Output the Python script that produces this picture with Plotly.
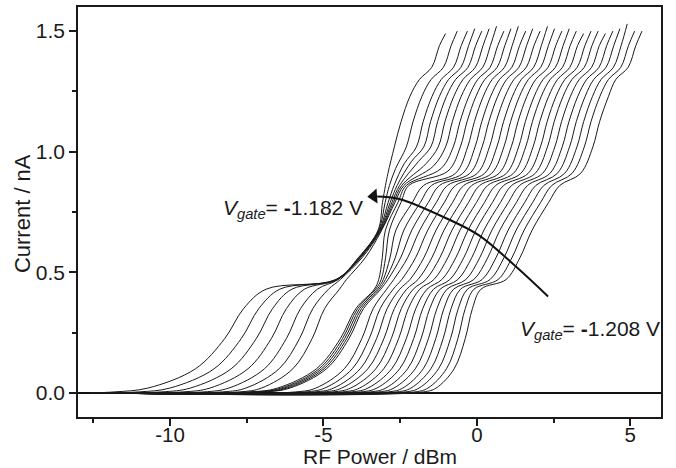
import plotly.graph_objects as go

# ---- data -----------------------------------------------------------------
# 27 sweeps, index 0 = Vgate -1.182 V (leftmost) ... 26 = Vgate -1.208 V (rightmost)
# x positions (RF power, dBm) of characteristic points of every curve
C1 = [-8.22, -7.68, -7.19, -6.70, -6.21, -5.78, -5.37, -4.45, -4.38, -4.31, -4.24, -4.17, -3.75, -3.51,
      -3.27, -3.03, -2.79, -2.55, -2.30, -2.06, -1.82, -1.58, -1.34, -1.10, -0.86, -0.62, -0.38]   # I = 0.225 nA
W1 = [1.00, 0.93, 0.86, 0.80, 0.75, 0.70, 0.66, 0.82, 0.80, 0.79, 0.78, 0.77, 0.60, 0.58,
      0.56, 0.55, 0.53, 0.51, 0.50, 0.48, 0.46, 0.45, 0.43, 0.42, 0.41, 0.39, 0.38]          # first-step width
P1E = [-4.60, -4.58, -4.56, -4.54, -4.52, -4.45, -4.25, -3.20, -3.12, -3.05, -2.98, -2.90, -2.71, -2.45,
       -2.18, -1.92, -1.66, -1.40, -1.14, -0.88, -0.62, -0.36, -0.10, 0.17, 0.43, 0.69, 0.95]  # leaves 1st plateau
C2 = [-3.22, -3.20, -3.18, -3.16, -3.14, -3.12, -3.10, -2.98, -2.85, -2.64, -2.38, -2.12, -1.86, -1.60,
      -1.33, -1.07, -0.81, -0.55, -0.29, -0.03, 0.23, 0.49, 0.75, 1.02, 1.28, 1.54, 1.80]     # I = 0.675 nA
P2S = [-2.98, -2.85, -2.70, -2.60, -2.52, -2.45, -2.38, -2.30, -2.22, -1.74, -1.48, -1.22, -0.96, -0.70,
       -0.43, -0.17, 0.09, 0.35, 0.61, 0.87, 1.13, 1.39, 1.65, 1.92, 2.18, 2.44, 2.70]      # reaches 2nd plateau
P2E = [-2.90, -2.65, -2.37, -2.13, -1.90, -1.66, -1.42, -1.17, -0.94, -0.70, -0.46, -0.23, 0.01, 0.25,
       0.48, 0.72, 0.96, 1.19, 1.43, 1.67, 1.90, 2.14, 2.38, 2.62, 2.86, 3.10, 3.38]        # leaves 2nd plateau
Y2E = [0.91, 0.93, 0.95, 0.96, 0.96, 0.95, 0.94, 0.93, 0.92, 0.91, 0.91, 0.91, 0.91, 0.91,
       0.91, 0.91, 0.91, 0.91, 0.91, 0.91, 0.91, 0.91, 0.91, 0.91, 0.91, 0.91, 0.91]        # current there (nA)
C3 = [-2.47, -2.08, -1.75, -1.51, -1.28, -1.04, -0.80, -0.55, -0.32, -0.08, 0.16, 0.39, 0.63, 0.87,
      1.10, 1.34, 1.58, 1.81, 2.05, 2.29, 2.52, 2.76, 3.00, 3.24, 3.48, 3.72, 4.00]         # I = 1.125 nA
XEND = [-1.02, -0.64, -0.31, -0.07, 0.16, 0.40, 0.64, 0.88, 1.11, 1.35, 1.59, 1.82, 2.06, 2.30,
        2.53, 2.77, 3.01, 3.24, 3.48, 3.72, 3.95, 4.19, 4.43, 4.66, 4.90, 5.14, 5.38]       # last point
YEND = [1.49, 1.50, 1.50, 1.51, 1.50, 1.51, 1.52, 1.50, 1.51, 1.52, 1.50, 1.51, 1.50, 1.52,
        1.51, 1.50, 1.51, 1.50, 1.49, 1.50, 1.50, 1.49, 1.50, 1.51, 1.53, 1.50, 1.50]
X_START = -12.6

# shape of the first step (current levels, offsets in units of W1)
S1_Y = [0.004, 0.02, 0.10, 0.225, 0.35, 0.43]
S1_D = [-3.6, -2.5, -0.95, 0.0, 0.62, 1.35]
# levels along the second step
S2_Y = [0.47, 0.56, 0.675, 0.79, 0.86]
# levels along the third step
S3_Y = [1.02, 1.125, 1.23, 1.30, 1.35, 1.44]
# offsets of the third plateau shoulder from the curve end
TOP_D = [-0.85, -0.45, -0.20]

# curved arrow between the two labels
ARC_X = [2.32, 1.27, 0.07, -0.90, -2.53, -3.25]
ARC_Y = [0.400, 0.524, 0.653, 0.718, 0.804, 0.814]
HEAD_X = [-3.36]
HEAD_Y = [0.815]

fig = go.Figure()
for i in range(len(C1)):
    xs = [X_START] + [C1[i] + W1[i] * d for d in S1_D]
    ys = [0.0] + S1_Y
    x56 = P1E[i] + 0.53 * (C2[i] - P1E[i])
    x79 = C2[i] + 0.6 * (P2S[i] - C2[i])
    xs += [P1E[i], x56, C2[i], x79, P2S[i], P2E[i], C3[i] - 0.22, C3[i], C3[i] + 0.29]
    ys += S2_Y + [Y2E[i]] + S3_Y[:3]
    xs += [XEND[i] + d for d in TOP_D] + [XEND[i]]
    ys += S3_Y[3:] + [YEND[i]]
    fig.add_trace(go.Scatter(x=xs, y=ys, mode="lines",
                             line=dict(color="#1a1a1a", width=1, shape="spline", smoothing=1.0),
                             hoverinfo="skip"))

fig.add_trace(go.Scatter(x=ARC_X, y=ARC_Y, mode="lines",
                         line=dict(color="#111", width=2, shape="spline"), hoverinfo="skip"))
fig.add_trace(go.Scatter(x=HEAD_X, y=HEAD_Y, mode="markers",
                         marker=dict(symbol="triangle-left", size=13, color="#111", angle=-4,
                                     line=dict(width=0)),
                         hoverinfo="skip"))

fig.add_annotation(x=-3.66, y=0.762, xref="x", yref="y", xanchor="right", yanchor="middle",
                   text="<i>V</i><sub><i>gate</i></sub>= <b>-</b>1.182 V", showarrow=False,
                   font=dict(size=21, color="#1a1a1a"))
fig.add_annotation(x=1.33, y=0.262, xref="x", yref="y", xanchor="left", yanchor="middle",
                   text="<i>V</i><sub><i>gate</i></sub>= <b>-</b>1.208 V", showarrow=False,
                   font=dict(size=21, color="#1a1a1a"))

# axis titles placed as paper annotations
fig.add_annotation(x=0.518, y=-0.097, xref="paper", yref="paper", xanchor="center", yanchor="middle",
                   text="RF Power / dBm", showarrow=False, font=dict(size=21, color="#1a1a1a"))
fig.add_annotation(x=-0.096, y=0.495, xref="paper", yref="paper", xanchor="center", yanchor="middle",
                   text="Current / nA", textangle=-90, showarrow=False,
                   font=dict(size=22, color="#1a1a1a"))

axis_common = dict(showline=True, linewidth=1.5, linecolor="#1a1a1a", mirror=True, showgrid=False,
                   ticks="outside", ticklen=7, tickwidth=1.5, tickcolor="#1a1a1a", automargin=False)

fig.update_layout(
    width=676, height=468,
    margin=dict(l=78, r=15, t=7, b=51),
    plot_bgcolor="white", paper_bgcolor="white", showlegend=False,
    font=dict(family="Liberation Sans, Arial, sans-serif", size=21, color="#1a1a1a"),
    xaxis=dict(range=[-13, 6], tickvals=[-10, -5, 0, 5], ticktext=["-10", "-5", "0", "5"],
               zeroline=False, ticklabelstandoff=-8, tickfont=dict(size=20.5),
               minor=dict(tickvals=[-12.5, -7.5, -2.5, 2.5], ticks="outside", ticklen=4,
                          tickwidth=1.5, tickcolor="#1a1a1a"),
               **axis_common),
    yaxis=dict(range=[-0.1, 1.6], tickvals=[0, 0.5, 1.0, 1.5], ticktext=["0.0", "0.5", "1.0", "1.5"],
               zeroline=True, zerolinecolor="#111", zerolinewidth=2,
               minor=dict(tickvals=[0.25, 0.75, 1.25], ticks="outside", ticklen=4,
                          tickwidth=1.5, tickcolor="#1a1a1a"),
               **axis_common),
)

fig.write_html("out.html")
